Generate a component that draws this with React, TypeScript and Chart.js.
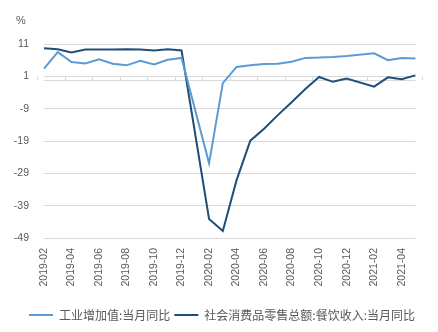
import React, { useEffect, useRef } from "react";
import { Chart, registerables } from "chart.js";

Chart.register(...registerables);

const months = [
  "2019-02", "2019-03", "2019-04", "2019-05", "2019-06", "2019-07", "2019-08",
  "2019-09", "2019-10", "2019-11", "2019-12", "2020-01", "2020-02", "2020-03",
  "2020-04", "2020-05", "2020-06", "2020-07", "2020-08", "2020-09", "2020-10",
  "2020-11", "2020-12", "2021-01", "2021-02", "2021-03", "2021-04", "2021-05",
];

const industrialYoY = [
  3.4, 8.5, 5.4, 5.0, 6.3, 4.9, 4.4, 5.8, 4.7, 6.1, 6.7, null, -25.9, -1.1,
  3.9, 4.4, 4.8, 4.9, 5.5, 6.7, 6.8, 7.0, 7.3, null, 8.1, 6.0, 6.7, 6.5,
];

const cateringYoY = [
  9.7, 9.4, 8.4, 9.3, 9.3, 9.3, 9.4, 9.3, 9.0, 9.4, 9.0, null, -43.1, -46.8,
  -31.1, -18.9, -15.2, -11.0, -7.0, -2.9, 0.8, -0.7, 0.3, null, -2.2, 0.7, 0.1, 1.3,
];

const yTicks = [11, 1, -9, -19, -29, -39, -49];
const seriesNames = ["工业增加值:当月同比", "社会消费品零售总额:餐饮收入:当月同比"];
const unitLabel = "%";

const LIGHT = "#5B9BD5";
const DARK = "#1F4E79";
const TEXT = "#595959";
const GRID = "#d9d9d9";
const FONT = '"Liberation Sans", Arial, "Noto Sans CJK SC", sans-serif';
const CJK_FONT = '"Noto Sans CJK SC", "Liberation Sans", sans-serif';

const axisPlugin = {
  id: "zeroAxis",
  afterLayout(chart: any) {
    const lg = chart.legend;
    if (lg) {
      lg.left += 11;
      lg.right += 11;
    }
  },
  beforeDatasetsDraw(chart: any) {
    const { ctx, chartArea, scales } = chart;
    const x = scales.x;
    const y = scales.y;
    const y0 = Math.round(y.getPixelForValue(0)) + 0.5;
    const y1 = Math.round(y.getPixelForValue(1)) + 0.5;
    ctx.save();
    ctx.strokeStyle = GRID;
    ctx.lineWidth = 1;
    ctx.beginPath();
    ctx.moveTo(chartArea.left, y0);
    ctx.lineTo(chartArea.right, y0);
    for (let i = 0; i <= months.length; i += 2) {
      const px = Math.round(x.getPixelForValue(i - 0.5)) + 0.5;
      ctx.moveTo(px, y0);
      ctx.lineTo(px, y1);
    }
    ctx.stroke();
    ctx.restore();
  },
  afterDraw(chart: any) {
    const { ctx } = chart;
    ctx.save();
    ctx.fillStyle = TEXT;
    ctx.font = `11px ${FONT}`;
    ctx.textAlign = "center";
    ctx.textBaseline = "middle";
    ctx.fillText(unitLabel, 21, 21);
    ctx.restore();
  },
};

export default function App() {
  const ref = useRef<HTMLCanvasElement>(null);
  useEffect(() => {
    document.body.style.margin = "0";
    const chart = new Chart(ref.current as HTMLCanvasElement, {
      type: "line",
      data: {
        labels: months,
        datasets: [
          {
            label: seriesNames[0],
            data: industrialYoY,
            borderColor: LIGHT,
            backgroundColor: LIGHT,
            borderWidth: 2,
            pointRadius: 0,
            tension: 0,
            spanGaps: true,
          },
          {
            label: seriesNames[1],
            data: cateringYoY,
            borderColor: DARK,
            backgroundColor: DARK,
            borderWidth: 2,
            pointRadius: 0,
            tension: 0,
            spanGaps: true,
          },
        ],
      },
      options: {
        responsive: false,
        animation: false,
        devicePixelRatio: 1,
        layout: { padding: { left: 0, right: 16, top: 44, bottom: 1 } },
        plugins: {
          legend: {
            position: "bottom",
            labels: {
              usePointStyle: true,
              pointStyle: "line",
              pointStyleWidth: 24,
              boxHeight: 2,
              font: { family: CJK_FONT, size: 12 },
              color: TEXT,
              padding: 4,
            },
          },
          tooltip: { enabled: false },
        },
        scales: {
          x: {
            grid: { display: false, drawTicks: false },
            border: { display: false },
            ticks: {
              autoSkip: false,
              maxRotation: 90,
              minRotation: 90,
              padding: 10,
              font: { family: FONT, size: 10.5 },
              color: TEXT,
              callback: (_v: any, i: number) => (i % 2 === 0 ? months[i] : ""),
            },
            afterFit: (s: any) => {
              s.height = 67;
            },
          },
          y: {
            min: -49,
            max: 11,
            afterBuildTicks: (s: any) => {
              s.ticks = yTicks.map((v) => ({ value: v }));
            },
            grid: { color: GRID, drawTicks: false, lineWidth: 1 },
            border: { display: false },
            ticks: {
              padding: 15,
              font: { family: FONT, size: 10.5 },
              color: TEXT,
              callback: (v: any) => String(v),
            },
            afterFit: (s: any) => {
              s.width = 44;
            },
          },
        },
      },
      plugins: [axisPlugin],
    } as any);
    return () => chart.destroy();
  }, []);
  return (
    <div style={{ width: 438, height: 332 }}>
      <canvas ref={ref} width={438} height={332} style={{ display: "block" }} />
    </div>
  );
}
